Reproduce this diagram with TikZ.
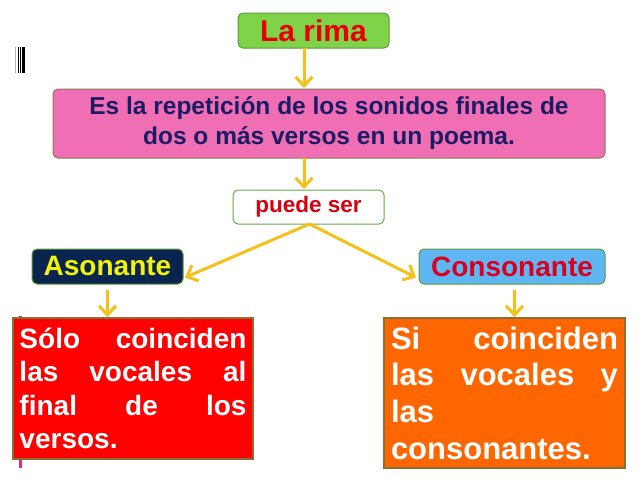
\documentclass[tikz,border=0pt]{standalone}
\usepackage{fontspec}
\setmainfont{Liberation Sans}
\usetikzlibrary{arrows.meta,calc}
\definecolor{rimagreen}{HTML}{7ED348}
\definecolor{rimaborder}{HTML}{5E9A3A}
\definecolor{rimared}{HTML}{E80000}
\definecolor{defpink}{HTML}{F06EB4}
\definecolor{defborder}{HTML}{8C7A52}
\definecolor{defnavy}{HTML}{1C1C64}
\definecolor{puedegreen}{HTML}{6AA84F}
\definecolor{puedered}{HTML}{D80010}
\definecolor{asonnavy}{HTML}{0A2450}
\definecolor{asonyellow}{HTML}{F2F20A}
\definecolor{consblue}{HTML}{5EB6F2}
\definecolor{consred}{HTML}{D80020}
\definecolor{boxred}{HTML}{FF0000}
\definecolor{boxorange}{HTML}{FF6600}
\definecolor{boxborder}{HTML}{8A6E34}
\definecolor{arrowgold}{HTML}{F5C01A}
\definecolor{markpink}{HTML}{D0308A}
\newcommand{\jtwo}[2]{\leavevmode\hbox to 227pt{#1\hfill #2}}
\newcommand{\jthree}[3]{\leavevmode\hbox to 227pt{#1\hfill #2\hfill #3}}
\begin{document}
\begin{tikzpicture}[x=1pt,y=-1pt,
  base/.style={inner sep=0pt, outer sep=0pt, font=\bfseries, line width=1pt},
  roundbox/.style={base, rounded corners=5pt, draw},
  sqbox/.style={base, draw=boxborder, line width=1.2pt},
  conn/.style={draw=arrowgold, line width=3pt, -{Straight Barb[length=9pt,width=17pt,line width=3pt]}}
]
\useasboundingbox (0,0) rectangle (638,479);
\fill[white] (0,0) rectangle (638,479);

% small marks
\fill[gray!60] (15,47) rectangle (16.2,73);
\fill[black] (17.5,47) rectangle (19,73);
\fill[black] (19.8,47) rectangle (21.2,73);
\fill[black] (22.2,47) rectangle (24.5,73);
\fill[markpink] (18.5,316) rectangle (21.5,320);
\fill[markpink] (18.5,460) rectangle (21.5,468);

% nodes
\node[roundbox, fill=rimagreen, draw=rimaborder, minimum width=151pt, minimum height=35pt,
  text=rimared, font=\bfseries\fontsize{30}{34}\selectfont] (rima) at (313.5,30.5) {La rima};

\node[roundbox, fill=defpink, draw=defborder, minimum width=552pt, minimum height=69pt,
  text=defnavy, align=center, font=\bfseries\fontsize{24.5}{30}\selectfont] (def) at (329,123.5)
  {Es la repetición de los sonidos finales de\\dos o más versos en un poema.};

\node[roundbox, fill=white, draw=puedegreen, minimum width=151pt, minimum height=34pt,
  text=puedered, font=\bfseries\fontsize{22.5}{26}\selectfont] (puede) at (308.5,207) {puede ser};

\node[roundbox, fill=asonnavy, draw=rimaborder, minimum width=151pt, minimum height=35pt,
  text=asonyellow, font=\bfseries\fontsize{28}{32}\selectfont] (ason) at (107.5,266.5) {Asonante};

\node[roundbox, fill=consblue, draw=rimaborder, minimum width=186pt, minimum height=35pt,
  text=consred, font=\bfseries\fontsize{28}{32}\selectfont] (cons) at (512,266.5) {Consonante};

\node[sqbox, fill=boxred, minimum width=240pt, minimum height=141pt, text=white,
  text width=227pt, align=left, font=\bfseries\fontsize{28}{33.4}\selectfont] (sol) at (133,388.5)
  {\jtwo{Sólo}{coinciden}\\\jthree{las}{vocales}{al}\\\jthree{final}{de}{los}\\versos.};

\node[sqbox, fill=boxorange, minimum width=241pt, minimum height=150pt, text=white,
  text width=227pt, align=left, font=\bfseries\fontsize{31}{36.7}\selectfont] (si) at (504.5,393)
  {\jtwo{Si}{coinciden}\\\jthree{las}{vocales}{y}\\las\\consonantes.};

% connectors
\draw[conn] ([xshift=-9.5pt]rima.south) -- ([xshift=-25pt,yshift=1pt]def.north);
\draw[conn] ([xshift=-25pt]def.south) -- ([xshift=-4.5pt,yshift=1pt]puede.north);
\draw[conn] ([xshift=1pt]puede.south) -- ([xshift=2pt,yshift=-11pt]ason.east);
\draw[conn] ([xshift=1pt]puede.south) -- ([xshift=-3pt,yshift=-11pt]cons.west);
\draw[conn] ([yshift=-6pt]ason.south) -- ([xshift=-25.5pt,yshift=1pt]sol.north);
\draw[conn] ([xshift=2.5pt,yshift=-6pt]cons.south) -- ([xshift=10pt,yshift=1pt]si.north);
\end{tikzpicture}
\end{document}
